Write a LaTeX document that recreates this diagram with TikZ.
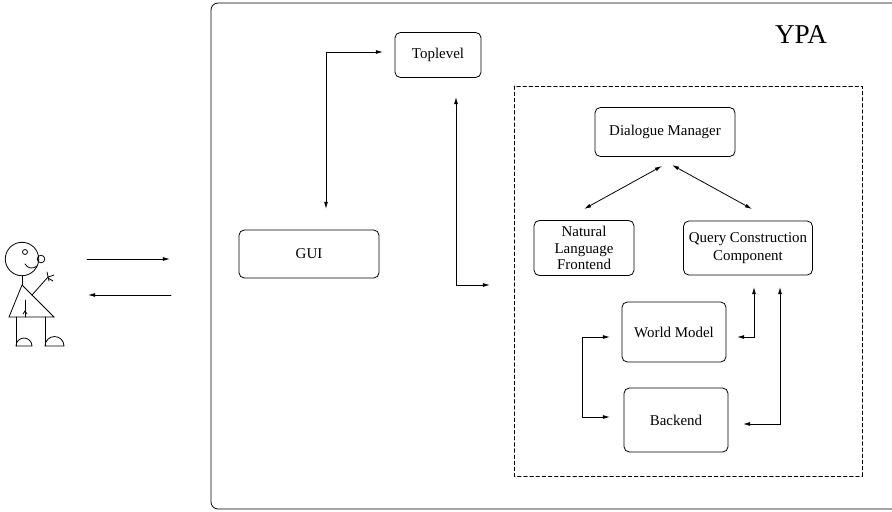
\documentclass[tikz,border=0pt]{standalone}
\usepackage{fontspec}
\setmainfont{Liberation Serif}
\usetikzlibrary{arrows.meta}

\tikzset{
  module/.style={draw, rounded corners=3pt, inner sep=0pt, align=center,
    font=\fontsize{8.5}{10}\selectfont},
  link/.style={<->},
}

\begin{document}
\begin{tikzpicture}[x=0.02cm, y=-0.02cm, line width=0.45pt, line cap=round,
    >={Latex[length=4pt,width=2.2pt]}]
  \useasboundingbox (0,0) rectangle (892,511);
  \clip (0,0) rectangle (892,511);

  % the user
  \draw (22,259) circle (16.7);
  \draw (41,259) circle (3.8);
  \draw (25,252) circle (2.5);
  \draw (25,264) .. controls (28,269) and (33,269) .. (37,266);
  \draw (22,276) -- (22,285);
  \draw (22,285) -- (9,317) -- (54,317) -- cycle;
  \draw (32,295) -- (48,277);
  \draw (47,272) -- (49,281);
  \draw (48,277) -- (54,275);
  \draw (48,278) -- (53,281);
  \draw (25,300) -- (25,317);
  \draw (23,314) -- (25,311) -- (27,314);
  \draw (16,317) -- (16,346);
  \draw (45,317) -- (45,346);
  \draw (16,346) arc[start angle=180, end angle=360, radius=8] -- cycle;
  \draw (45,346) arc[start angle=180, end angle=360, radius=9.5] -- cycle;

  \coordinate (in1) at (87,259);
  \coordinate (in2) at (170,259);
  \coordinate (out1) at (171,295);
  \coordinate (out2) at (88,295);
  \draw[->] (in1) -- (in2);
  \draw[->] (out1) -- (out2);

  % system frame
  \draw[rounded corners=4pt] (900,3) -- (211,3) -- (211,509) -- (900,509);
  \node[inner sep=0pt, font=\fontsize{15.5}{18}\selectfont] (ypa) at (801,35) {YPA};

  \node[module, minimum width=1.72cm, minimum height=0.9cm] (top) at (438,55) {Toplevel};
  \node[module, minimum width=2.8cm, minimum height=0.96cm] (gui) at (309,254) {GUI};

  % dialogue core
  \draw[dashed, dash pattern=on 2pt off 1.5pt] (514,86) rectangle (862,476);
  \node[module, minimum width=2.8cm, minimum height=0.98cm] (dm) at (665,132) {Dialogue Manager};
  \node[module, minimum width=2cm, minimum height=1.1cm,
    font=\fontsize{8.5}{9.2}\selectfont] (nlf) at (584,248) {Natural\\Language\\Frontend};
  \node[module, minimum width=2.58cm, minimum height=1.08cm] (qcc) at (748,248) {Query Construction\\Component};
  \node[module, minimum width=2.08cm, minimum height=1.2cm] (wm) at (674,332) {World Model};
  \node[module, minimum width=2.08cm, minimum height=1.28cm] (be) at (676,420) {Backend};

  % connectors
  \coordinate (top-w) at (383,52);
  \coordinate (gui-n) at (326,209);
  \draw[link] (top-w) -| (gui-n);

  \coordinate (top-s) at (456,97);
  \coordinate (core-w) at (490,285);
  \draw[link] (top-s) |- (core-w);

  \coordinate (dm-sw) at (662,166);
  \coordinate (dm-se) at (672,165);
  \coordinate (nlf-n) at (584,209);
  \coordinate (qcc-n) at (752,209);
  \draw[link] (dm-sw) -- (nlf-n);
  \draw[link] (dm-se) -- (qcc-n);

  \coordinate (wm-w) at (610,337);
  \coordinate (be-w) at (610,417);
  \draw[link] (wm-w) -- (582,337) -- (582,417) -- (be-w);

  \coordinate (wm-e) at (737,337);
  \coordinate (qcc-s1) at (754,287);
  \draw[link] (wm-e) -| (qcc-s1);

  \coordinate (be-e) at (743,424);
  \coordinate (qcc-s2) at (780,287);
  \draw[link] (be-e) -| (qcc-s2);
\end{tikzpicture}
\end{document}
